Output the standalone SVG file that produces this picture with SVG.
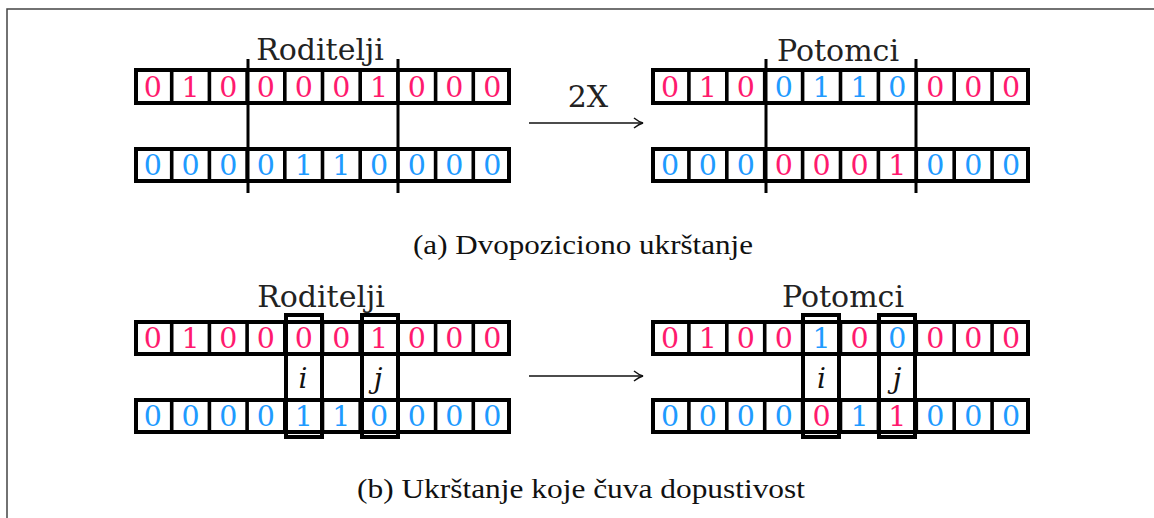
<svg xmlns="http://www.w3.org/2000/svg" width="1154" height="518" viewBox="0 0 1154 518">
<style>
.bg{fill:#fff}
.frame{fill:none;stroke:#444;stroke-width:1.5}
.row{fill:#fff;stroke:#000;stroke-width:4}
.sep{stroke:#000;stroke-width:3.6;fill:none}
.cut{stroke:#000;stroke-width:3;fill:none}
.hl{fill:none;stroke:#000;stroke-width:4}
.d{font-family:"DejaVu Serif",serif;font-size:28.5px;text-anchor:middle}
.p{fill:#ff1a6e}
.b{fill:#1f9bff}
.lbl{font-family:"DejaVu Serif",serif;font-size:30px;fill:#222;text-anchor:middle}
.ij{font-family:"DejaVu Serif",serif;font-style:italic;font-size:28px;fill:#111;text-anchor:middle}
.cap{font-family:"Liberation Serif",serif;font-size:28px;fill:#111}
.arr{stroke:#111;stroke-width:1.6;fill:none}
</style>
<defs>
<marker id="ah" markerUnits="userSpaceOnUse" markerWidth="14" markerHeight="14" refX="11" refY="7" orient="auto">
<path d="M2,2 Q7,6 11,7 Q7,8 2,12" fill="none" stroke="#111" stroke-width="1.5"/>
</marker>
</defs>
<rect class="bg" x="0" y="0" width="1154" height="518"/>
<path class="frame" d="M7,518 V9 H1154"/>

<!-- Section (a) -->
<g id="a-parents-top">
<rect class="row" x="136" y="70" width="373" height="33"/>
<path class="sep" d="M171.7,68V105M209.4,68V105M247.1,68V105M284.8,68V105M322.5,68V105M360.2,68V105M397.9,68V105M435.6,68V105M473.3,68V105"/>
<text class="d" y="97"><tspan class="p" x="152.9">0</tspan><tspan class="p" x="190.6">1</tspan><tspan class="p" x="228.2">0</tspan><tspan class="p" x="265.9">0</tspan><tspan class="p" x="303.7">0</tspan><tspan class="p" x="341.4">0</tspan><tspan class="p" x="379">1</tspan><tspan class="p" x="416.8">0</tspan><tspan class="p" x="454.4">0</tspan><tspan class="p" x="492.2">0</tspan></text>
</g>
<g id="a-parents-bottom">
<rect class="row" x="136" y="149" width="373" height="32"/>
<path class="sep" d="M171.7,147V183M209.4,147V183M247.1,147V183M284.8,147V183M322.5,147V183M360.2,147V183M397.9,147V183M435.6,147V183M473.3,147V183"/>
<text class="d" y="175"><tspan class="b" x="152.9">0</tspan><tspan class="b" x="190.6">0</tspan><tspan class="b" x="228.2">0</tspan><tspan class="b" x="265.9">0</tspan><tspan class="b" x="303.7">1</tspan><tspan class="b" x="341.4">1</tspan><tspan class="b" x="379">0</tspan><tspan class="b" x="416.8">0</tspan><tspan class="b" x="454.4">0</tspan><tspan class="b" x="492.2">0</tspan></text>
</g>
<g id="a-parents-cuts">
<path class="cut" d="M248,59V193M398,59V193"/>
</g>
<g id="a-parents-label"><text class="lbl" x="320" y="60">Roditelji</text></g>

<g id="a-children-top">
<rect class="row" x="653" y="70" width="375" height="33"/>
<path class="sep" d="M688.9,68V105M726.8,68V105M764.7,68V105M802.6,68V105M840.5,68V105M878.4,68V105M916.3,68V105M954.2,68V105M992.1,68V105"/>
<text class="d" y="97"><tspan class="p" x="670">0</tspan><tspan class="p" x="707.9">1</tspan><tspan class="p" x="745.8">0</tspan><tspan class="b" x="783.7">0</tspan><tspan class="b" x="821.6">1</tspan><tspan class="b" x="859.5">1</tspan><tspan class="b" x="897.4">0</tspan><tspan class="p" x="935.3">0</tspan><tspan class="p" x="973.2">0</tspan><tspan class="p" x="1011.1">0</tspan></text>
</g>
<g id="a-children-bottom">
<rect class="row" x="653" y="149" width="375" height="32"/>
<path class="sep" d="M688.9,147V183M726.8,147V183M764.7,147V183M802.6,147V183M840.5,147V183M878.4,147V183M916.3,147V183M954.2,147V183M992.1,147V183"/>
<text class="d" y="175"><tspan class="b" x="670">0</tspan><tspan class="b" x="707.9">0</tspan><tspan class="b" x="745.8">0</tspan><tspan class="p" x="783.7">0</tspan><tspan class="p" x="821.6">0</tspan><tspan class="p" x="859.5">0</tspan><tspan class="p" x="897.4">1</tspan><tspan class="b" x="935.3">0</tspan><tspan class="b" x="973.2">0</tspan><tspan class="b" x="1011.1">0</tspan></text>
</g>
<g id="a-children-cuts">
<path class="cut" d="M766,59V193M916,59V193"/>
</g>
<g id="a-children-label"><text class="lbl" x="838" y="61">Potomci</text></g>
<g id="a-arrow-label"><text class="lbl" x="588" y="107">2X</text></g>
<g id="a-caption"><text class="cap" x="413" y="254" textLength="340" lengthAdjust="spacingAndGlyphs">(a) Dvopoziciono ukrštanje</text></g>

<!-- Section (b) -->
<g id="b-parents-top">
<rect class="row" x="136" y="322" width="373" height="32"/>
<path class="sep" d="M171.7,320V356M209.4,320V356M247.1,320V356M284.8,320V356M322.5,320V356M360.2,320V356M397.9,320V356M435.6,320V356M473.3,320V356"/>
<text class="d" y="348"><tspan class="p" x="152.9">0</tspan><tspan class="p" x="190.6">1</tspan><tspan class="p" x="228.2">0</tspan><tspan class="p" x="265.9">0</tspan><tspan class="p" x="303.7">0</tspan><tspan class="p" x="341.4">0</tspan><tspan class="p" x="379">1</tspan><tspan class="p" x="416.8">0</tspan><tspan class="p" x="454.4">0</tspan><tspan class="p" x="492.2">0</tspan></text>
</g>
<g id="b-parents-bottom">
<rect class="row" x="136" y="400" width="373" height="32"/>
<path class="sep" d="M171.7,398V434M209.4,398V434M247.1,398V434M284.8,398V434M322.5,398V434M360.2,398V434M397.9,398V434M435.6,398V434M473.3,398V434"/>
<text class="d" y="426"><tspan class="b" x="152.9">0</tspan><tspan class="b" x="190.6">0</tspan><tspan class="b" x="228.2">0</tspan><tspan class="b" x="265.9">0</tspan><tspan class="b" x="303.7">1</tspan><tspan class="b" x="341.4">1</tspan><tspan class="b" x="379">0</tspan><tspan class="b" x="416.8">0</tspan><tspan class="b" x="454.4">0</tspan><tspan class="b" x="492.2">0</tspan></text>
</g>
<g id="b-parents-i"><rect class="hl" x="286" y="315" width="36" height="122"/><text class="ij" x="303" y="388">i</text></g>
<g id="b-parents-j"><rect class="hl" x="362" y="315" width="36" height="122"/><text class="ij" x="378" y="388">j</text></g>
<g id="b-parents-label"><text class="lbl" x="321" y="307">Roditelji</text></g>

<g id="b-children-top">
<rect class="row" x="653" y="322" width="375" height="32"/>
<path class="sep" d="M688.9,320V356M726.8,320V356M764.7,320V356M802.6,320V356M840.5,320V356M878.4,320V356M916.3,320V356M954.2,320V356M992.1,320V356"/>
<text class="d" y="348"><tspan class="p" x="670">0</tspan><tspan class="p" x="707.9">1</tspan><tspan class="p" x="745.8">0</tspan><tspan class="p" x="783.7">0</tspan><tspan class="b" x="821.6">1</tspan><tspan class="p" x="859.5">0</tspan><tspan class="b" x="897.4">0</tspan><tspan class="p" x="935.3">0</tspan><tspan class="p" x="973.2">0</tspan><tspan class="p" x="1011.1">0</tspan></text>
</g>
<g id="b-children-bottom">
<rect class="row" x="653" y="400" width="375" height="32"/>
<path class="sep" d="M688.9,398V434M726.8,398V434M764.7,398V434M802.6,398V434M840.5,398V434M878.4,398V434M916.3,398V434M954.2,398V434M992.1,398V434"/>
<text class="d" y="426"><tspan class="b" x="670">0</tspan><tspan class="b" x="707.9">0</tspan><tspan class="b" x="745.8">0</tspan><tspan class="b" x="783.7">0</tspan><tspan class="p" x="821.6">0</tspan><tspan class="b" x="859.5">1</tspan><tspan class="p" x="897.4">1</tspan><tspan class="b" x="935.3">0</tspan><tspan class="b" x="973.2">0</tspan><tspan class="b" x="1011.1">0</tspan></text>
</g>
<g id="b-children-i"><rect class="hl" x="803" y="315" width="36" height="122"/><text class="ij" x="821.6" y="388">i</text></g>
<g id="b-children-j"><rect class="hl" x="879" y="315" width="36" height="122"/><text class="ij" x="897" y="388">j</text></g>
<g id="b-children-label"><text class="lbl" x="843" y="307">Potomci</text></g>
<g id="b-caption"><text class="cap" x="357" y="498" textLength="448" lengthAdjust="spacingAndGlyphs">(b) Ukrštanje koje čuva dopustivost</text></g>

<g id="connectors">
<path class="arr" d="M529,123H643" marker-end="url(#ah)"/>
<path class="arr" d="M529,376H643" marker-end="url(#ah)"/>
</g>
</svg>
